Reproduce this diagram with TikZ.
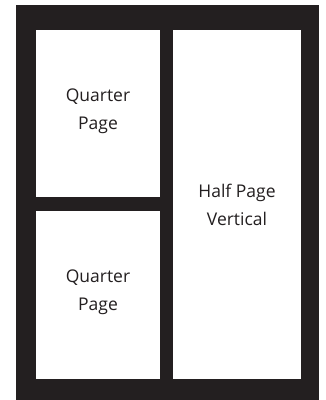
\documentclass[tikz,border=0pt]{standalone}
\usepackage{fontspec}
\setmainfont{Open Sans}
\definecolor{frame}{HTML}{231F20}
\definecolor{ink}{HTML}{231F20}
\tikzset{
  panel/.style={fill=white, draw=none},
  label/.style={text=ink, align=center, font=\fontsize{17.5}{28}\selectfont}
}
\begin{document}
\begin{tikzpicture}[x=1pt, y=-1pt]
  \useasboundingbox (0,0) rectangle (325,400);
  % dark page outline
  \fill[frame] (16,5) rectangle (319,400);
  % ad slots
  \fill[panel] (36,30) rectangle (160,197);
  \fill[panel] (36,211) rectangle (160,379);
  \fill[panel] (173,30) rectangle (301,379);
  \node[label] (q1) at (98,111) {Quarter\\Page};
  \node[label] (q2) at (98,292) {Quarter\\Page};
  \node[label] (hv) at (237,205) {Half Page\\Vertical};
\end{tikzpicture}
\end{document}
